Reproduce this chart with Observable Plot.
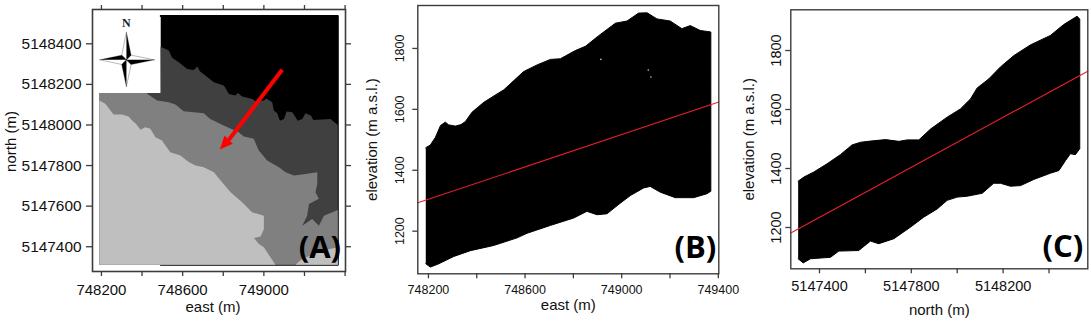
<!DOCTYPE html>
<html>
<head>
<meta charset="utf-8">
<script src="https://cdn.jsdelivr.net/npm/d3@7"></script>
<script src="https://cdn.jsdelivr.net/npm/@observablehq/plot@0.6"></script>
<style>
html,body{margin:0;padding:0;background:#fff;}
#wrap{position:relative;width:1091px;height:322px;overflow:hidden;}
#wrap>div,#wrap>svg{position:absolute;top:0;}
</style>
</head>
<body>
<div id="wrap"></div>
<script>
// Panel A: zone boundaries (east, north) in metres
const aEdge = {west:748190, east:749364, south:5147311, north:5148537};
const insetEast = 748492, insetSouth = 5148158;
const b1East = [748491,748532,748548,748581,748622,748655,748672,748685,748713,748754,748803,748828,748860,748872,748893,748943,748959,749000,749013,749041,749049,749066,749079,749099,749112,749140,749167,749189,749205,749233,749243,749328,749364];
const b1North = [5148386,5148367,5148331,5148309,5148276,5148271,5148288,5148265,5148243,5148210,5148194,5148153,5148145,5148158,5148140,5148128,5148117,5148120,5148130,5148112,5148071,5148058,5148021,5148030,5148067,5148063,5148021,5148030,5148058,5148046,5148025,5148030,5148000];
const b2East = [748425,748474,748531,748564,748605,748704,748736,748802,748876,748901,748950,748975,749016,749074,749107,749148,749205,749263,749263,749254,749271,749222,749213,749189,749238,749271,749296,749364];
const b2North = [5148154,5148121,5148112,5148101,5148068,5148058,5148030,5147997,5147964,5147943,5147932,5147874,5147825,5147792,5147767,5147751,5147759,5147767,5147710,5147669,5147636,5147611,5147553,5147504,5147537,5147504,5147553,5147581];
const b3East = [748190,748219,748260,748301,748334,748351,748370,748392,748416,748441,748466,748498,748539,748589,748630,748663,748704,748754,748787,748836,748893,748942,749000,749000,748984,748951,748975,749000,749057];
const b3North = [5148121,5148104,5148052,5148052,5148042,5148022,5148006,5147976,5147989,5147981,5147940,5147923,5147866,5147849,5147817,5147800,5147792,5147767,5147726,5147668,5147619,5147570,5147553,5147488,5147450,5147443,5147414,5147397,5147311];
const patchEast = [749156,749188,749250,749320,749364,749364];
const patchNorth = [5147311,5147339,5147365,5147388,5147397,5147311];
const arrowShaft = {x1:749090,y1:5148272,x2:748827,y2:5147926};
const arrowHeadEast = [748783,748806,748847], arrowHeadNorth = [5147879,5147948,5147907];
const compassCentre = [748323,5148321];
const compassBlack = [
  [[748323,5148457],[748346,5148344],[748323,5148321]],
  [[748461,5148321],[748346,5148298],[748323,5148321]],
  [[748323,5148189],[748300,5148298],[748323,5148321]],
  [[748192,5148321],[748300,5148344],[748323,5148321]]
];
const compassWhite = [
  [[748323,5148457],[748300,5148344],[748323,5148321]],
  [[748461,5148321],[748346,5148344],[748323,5148321]],
  [[748323,5148189],[748346,5148298],[748323,5148321]],
  [[748192,5148321],[748300,5148298],[748323,5148321]]
];
// Panel B: elevation envelope against east
const bUpperEast = [748189,748208,748229,748250,748270,748284,748312,748335,748353,748381,748429,748491,748512,748546,748594,748650,748705,748746,748808,748850,748905,748974,749022,749070,749105,749146,749201,749249,749284,749325,749369];
const bUpperElev = [1474,1483,1508,1547,1558,1549,1545,1550,1560,1591,1623,1654,1664,1689,1724,1746,1764,1766,1793,1807,1842,1883,1890,1916,1917,1897,1890,1865,1875,1859,1854];
const bLowerEast = [748189,748208,748243,748305,748374,748470,748567,748608,748705,748801,748856,748898,748939,748994,749036,749091,749118,749160,749222,749298,749353,749369];
const bLowerElev = [1093,1082,1093,1117,1136,1153,1178,1193,1219,1243,1265,1254,1257,1292,1317,1342,1347,1328,1310,1310,1323,1331];
const bFitEast = [748156,749402], bFitElev = [1293,1624];
const bSpeckEast = [748914,749110,749121], bSpeckElev = [1764,1729,1706];
// Panel C: elevation envelope against north
const cUpperNorth = [5147307,5147332,5147375,5147433,5147491,5147542,5147579,5147622,5147688,5147746,5147782,5147833,5147884,5147956,5148014,5148058,5148087,5148138,5148188,5148247,5148319,5148406,5148464,5148522,5148534];
const cUpperElev = [1357,1371,1388,1416,1447,1480,1489,1493,1498,1492,1497,1497,1534,1574,1602,1636,1673,1704,1744,1783,1819,1851,1888,1916,1907];
const cLowerNorth = [5147307,5147329,5147361,5147448,5147484,5147571,5147622,5147658,5147724,5147796,5147854,5147913,5147956,5148000,5148043,5148109,5148159,5148188,5148232,5148276,5148334,5148406,5148443,5148472,5148493,5148515,5148534];
const cLowerElev = [1094,1080,1094,1099,1120,1122,1154,1145,1162,1201,1235,1263,1292,1303,1306,1316,1350,1350,1340,1342,1363,1384,1393,1427,1450,1447,1467];
const cFitNorth = [5147275,5148569], cFitElev = [1181,1730];
// Ticks
const aXTicks = [748200,748400,748600,748800,749000,749200,749400];
const aXLabels = [748200,748600,749000];
const aYTicks = [5147400,5147600,5147800,5148000,5148200,5148400];
const bXTicks = [748200,748400,748600,748800,749000,749200,749400];
const bXLabels = [748200,748600,749000,749400];
const elevTicks = [1200,1400,1600,1800];
const cXTicks = [5147400,5147600,5147800,5148000,5148200,5148400];
const cXLabels = [5147400,5147800,5148200];

const GREY = "#3c3c3c", INK = "#111", FONT = "Liberation Sans, Arial, sans-serif";
const zip = (xs, ys) => xs.map((x, i) => [x, ys[i]]);
const poly = (pts, fill, extra = {}) => Plot.line(pts, {x: d => d[0], y: d => d[1], fill, stroke: "none", curve: "linear", ...extra});
const onlyLabelled = labels => d => labels.includes(d) ? String(d) : "";
const mount = (el, left) => { el.style.left = left + "px"; document.getElementById("wrap").appendChild(el); };
const axisStyle = {stroke: GREY, strokeWidth: 1.3, color: INK, label: null};

// ---- Panel A
const E = aEdge;
const blackZone = [[insetEast,E.north],[E.east,E.north],[E.east,E.south],[insetEast,E.south]];
const darkZone = [...zip(b1East,b1North),[E.east,E.south],[E.west,E.south],[E.west,insetSouth],[insetEast,insetSouth]];
const midZone = [[E.west,insetSouth],[b2East[0],insetSouth],...zip(b2East,b2North),[E.east,E.south],[E.west,E.south]];
const lightZone = [...zip(b3East,b3North),[E.west,E.south]];

mount(Plot.plot({
  width: 360, height: 322, marginLeft: 92, marginRight: 15, marginTop: 9, marginBottom: 51,
  style: {background: "transparent", fontFamily: FONT, fontSize: "15px", color: INK},
  x: {domain: [748156,749402], axis: null},
  y: {domain: [5147278,5148569], axis: null},
  marks: [
    poly(blackZone, "#000", {stroke: "#000", strokeWidth: 2, strokeLinejoin: "round"}),
    poly(darkZone, "#404040"),
    poly(midZone, "#808080"),
    poly(lightZone, "#bfbfbf"),
    poly(zip(patchEast,patchNorth), "#bfbfbf"),
    ...compassWhite.map(p => poly(p, "#fff", {stroke: "#888", strokeWidth: 0.6})),
    ...compassBlack.map(p => poly(p, "#000", {stroke: "#000", strokeWidth: 0.3})),
    Plot.text(["N"], {x: [compassCentre[0]], y: [5148502], text: d => d, fontFamily: "Liberation Serif, serif", fontSize: 12, fontWeight: 700, fill: "#123"}),
    Plot.link([arrowShaft], {x1: "x1", y1: "y1", x2: "x2", y2: "y2", stroke: "#f00", strokeWidth: 4}),
    poly(zip(arrowHeadEast,arrowHeadNorth), "#f00"),
    Plot.text(["(A)"], {x: [749276], y: [5147393], text: d => d, fontFamily: "Open Sans, sans-serif", fontWeight: 700, fontSize: 31, fill: "#000"}),
    Plot.frame({stroke: GREY, strokeWidth: 1.6}),
    Plot.axisX({anchor: "bottom", ticks: aXTicks, tickFormat: onlyLabelled(aXLabels), tickSize: 5, tickPadding: 8, fontSize: 15, ...axisStyle}),
    Plot.axisX({anchor: "top", ticks: aXTicks, tickFormat: () => "", tickSize: 5, ...axisStyle}),
    Plot.axisY({anchor: "left", ticks: aYTicks, tickFormat: d => String(d), tickSize: 6, tickPadding: 5, fontSize: 15.4, ...axisStyle}),
    Plot.axisY({anchor: "right", ticks: aYTicks, tickFormat: () => "", tickSize: 5, ...axisStyle}),
    Plot.text(["east (m)"], {frameAnchor: "bottom", dx: -6, dy: 40, text: d => d, fontSize: 15, fill: INK}),
    Plot.text(["north (m)"], {frameAnchor: "left", textAnchor: "middle", dx: -81, dy: 1, rotate: -90, text: d => d, fontSize: 15, fill: INK})
  ]
}), 0);

// ---- Panels B and C share a construction
function profile({left, width, m, xDomain, yDomain, upper, lower, fit, specks, xTicks, xLabels, xFont, yFont, xName, letter, labelDy, yLabelDx, yTickPad, xTickPad}) {
  const envelope = [...upper, ...lower.slice().reverse()];
  mount(Plot.plot({
    width, height: 322, marginLeft: m[0], marginRight: m[1], marginTop: m[2], marginBottom: m[3],
    style: {background: "transparent", fontFamily: FONT, fontSize: "15px", color: INK},
    x: {domain: xDomain, axis: null},
    y: {domain: yDomain, axis: null},
    marks: [
      poly(envelope, "#000", {stroke: "#000", strokeWidth: 1}),
      Plot.dot(specks, {x: d => d[0], y: d => d[1], r: 0.8, fill: "#ccc", stroke: "none"}),
      Plot.line(fit, {x: d => d[0], y: d => d[1], stroke: "#e8202a", strokeWidth: 1.1}),
      Plot.text([letter.t], {x: [letter.x], y: [letter.y], text: d => d, fontFamily: "Open Sans, sans-serif", fontWeight: 700, fontSize: 31, fill: "#000"}),
      Plot.frame({stroke: GREY, strokeWidth: 1.4}),
      Plot.axisX({anchor: "bottom", ticks: xTicks, tickFormat: onlyLabelled(xLabels), tickSize: 5, tickPadding: xTickPad, fontSize: xFont, ...axisStyle}),
      Plot.axisY({anchor: "left", ticks: elevTicks, tickFormat: d => String(d), tickSize: 5, tickPadding: yTickPad, tickRotate: -90, textAnchor: "middle", fontSize: yFont, ...axisStyle}),
      Plot.text([xName], {frameAnchor: "bottom", dy: labelDy, text: d => d, fontSize: 15, fill: INK}),
      Plot.text(["elevation (m a.s.l.)"], {frameAnchor: "left", textAnchor: "middle", dx: yLabelDx, rotate: -90, text: d => d, fontSize: 15, fill: INK})
    ]
  }), left);
}

profile({
  left: 360, width: 380, m: [57.3, 21.7, 5, 48.7],
  xDomain: [748156,749402], yDomain: [1060,1941],
  upper: zip(bUpperEast,bUpperElev), lower: zip(bLowerEast,bLowerElev),
  fit: zip(bFitEast,bFitElev), specks: zip(bSpeckEast,bSpeckElev),
  xTicks: bXTicks, xLabels: bXLabels, xFont: 12.5, yFont: 12.5, xName: "east (m)",
  letter: {t: "(B)", x: 749305, y: 1146}, labelDy: 36, yLabelDx: -46, yTickPad: 9, xTickPad: 6
});

profile({
  left: 740, width: 351, m: [50.3, 3.7, 9.3, 53.7],
  xDomain: [5147275,5148569], yDomain: [1060,1938],
  upper: zip(cUpperNorth,cUpperElev), lower: zip(cLowerNorth,cLowerElev),
  fit: zip(cFitNorth,cFitElev), specks: [],
  xTicks: cXTicks, xLabels: cXLabels, xFont: 14.5, yFont: 14.5, xName: "north (m)",
  letter: {t: "(C)", x: 5148460, y: 1132}, labelDy: 46, yLabelDx: -42, yTickPad: 5, xTickPad: 7
});
</script>
</body>
</html>
